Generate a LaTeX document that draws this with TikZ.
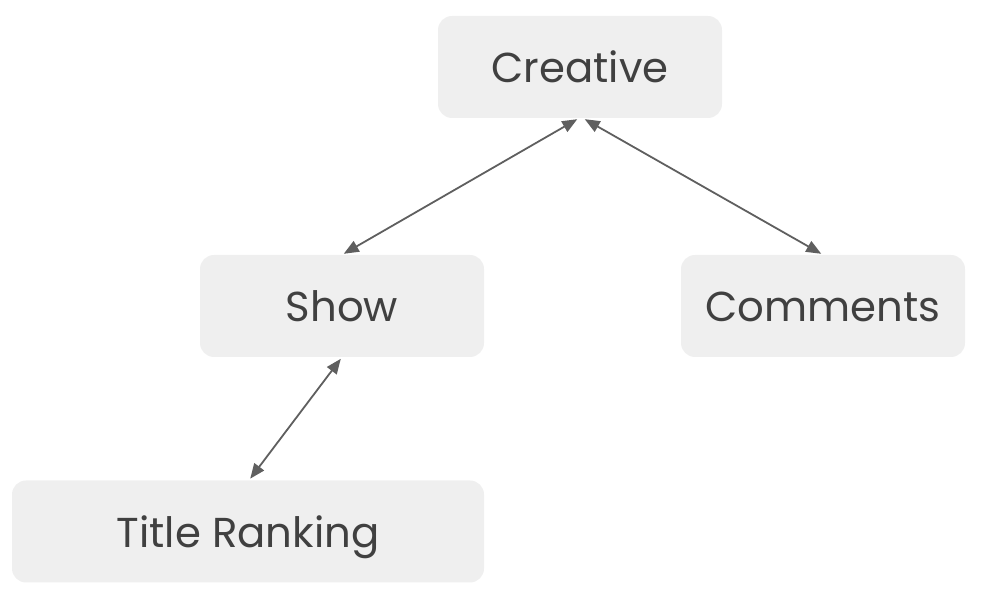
\documentclass[tikz,border=0pt]{standalone}
\usepackage{fontspec}
\setmainfont{Poppins}
\usetikzlibrary{arrows.meta}
\definecolor{boxgray}{HTML}{EFEFEF}
\definecolor{textgray}{HTML}{404040}
\definecolor{linegray}{HTML}{5F5F5F}

\begin{document}
\begin{tikzpicture}
	[x=1pt, y=1pt, box_style/.style={draw=none, fill=boxgray, rounded corners=14pt,
	minimum width=284pt, minimum height=102pt, inner sep=0pt,
	text height=31.5pt, text depth=0pt,
	text=textgray, font=\fontsize{41.8}{50}\selectfont},
	edge_style/.style={draw=linegray, line width=1.8pt, shorten <=2pt, shorten >=2pt,
	{Triangle[length=15pt, width=12pt]}-{Triangle[length=15pt, width=12pt]}}]
	\useasboundingbox (0,0) rectangle (986,602);
	\node[box_style] (creative) at (580,535) {Creative};
	\node[box_style] (show) at (342,296) {Show};
	\node[box_style] (comments) at (823,296) {Comments};
	\node[box_style, minimum width=472pt] (title) at (248,70.5) {Title Ranking};

	\draw[edge_style] ([xshift=-1pt]creative.south) -- (show.north);
	\draw[edge_style] ([xshift=3pt]creative.south) -- (comments.north);
	\draw[edge_style] (show.south) -- ([xshift=1pt]title.north);
\end{tikzpicture}
\end{document}
